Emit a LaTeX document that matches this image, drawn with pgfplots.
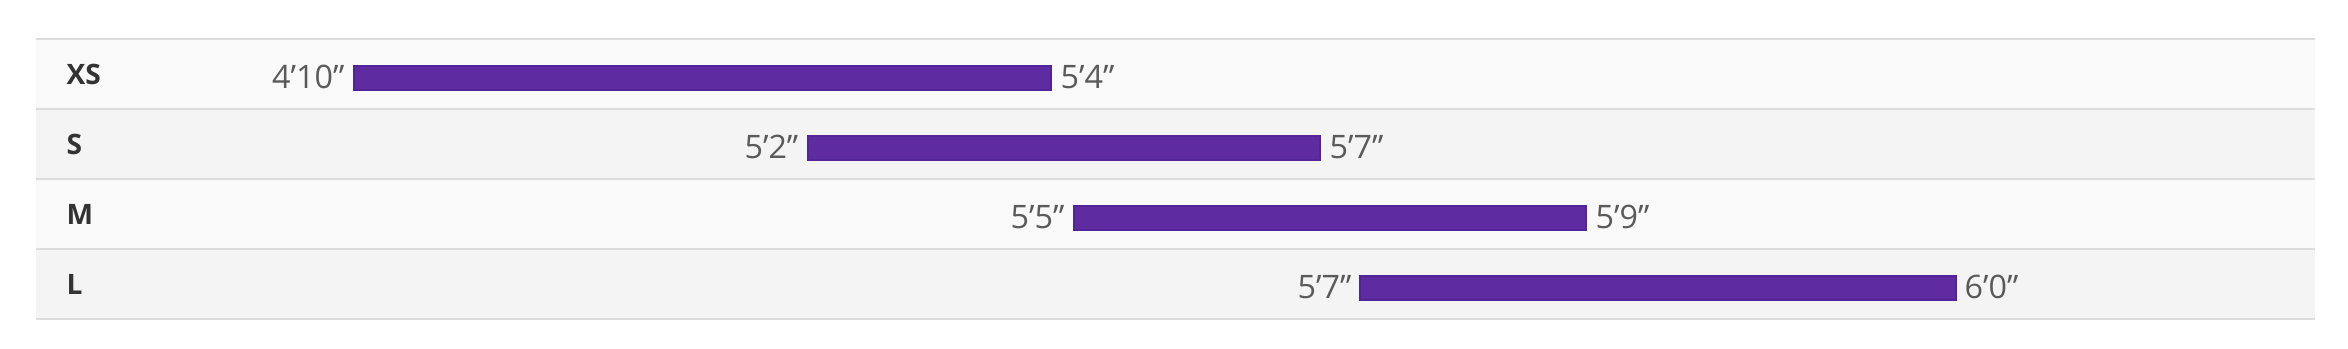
\documentclass[border=0pt]{standalone}
\usepackage{pgfplots}
\pgfplotsset{compat=1.18}
\usepackage{fontspec}
\setmainfont{Open Sans}
\definecolor{barfill}{HTML}{5E2CA0}
\definecolor{baredge}{HTML}{52249A}
\definecolor{rowA}{HTML}{F9F9F9}
\definecolor{rowB}{HTML}{F4F4F4}
\definecolor{ruleC}{HTML}{DDDDDD}
\definecolor{labC}{HTML}{333333}
\definecolor{numC}{HTML}{5A5A5A}
\newcommand\labfont{\fontsize{8pt}{9pt}\selectfont\bfseries}
\newcommand\numfont{\fontsize{9.2pt}{10pt}\selectfont}
\tikzset{lbl/.style={anchor=west, text=labC, font=\labfont, inner sep=0pt},
  numL/.style={anchor=east, text=numC, font=\numfont, inner sep=0pt},
  numR/.style={anchor=west, text=numC, font=\numfont, inner sep=0pt}}
\begin{document}
\begin{tikzpicture}
% table background (1 unit = 1 px of the reference, y downwards)
\begin{scope}[x=0.1mm, y=-0.1mm, yshift=34.8mm]
\path (0,0) rectangle (2348,348);
\fill[rowA] (36,39) rectangle (2315,109);
\fill[rowB] (36,109) rectangle (2315,179);
\fill[rowA] (36,179) rectangle (2315,249);
\fill[rowB] (36,249) rectangle (2315,319);
\foreach \yy in {39,109,179,249,319}{
  \draw[ruleC, line width=0.22mm] (36,\yy) -- (2315,\yy);
}
\end{scope}
\begin{axis}[
  at={(0,0)}, anchor=south west,
  scale only axis, width=234.8mm, height=34.8mm,
  xmin=0, xmax=2348, ymin=0, ymax=348, y dir=reverse,
  hide axis, clip=false,
  xbar stacked, bar width=2.4mm,
]
% bar start positions (invisible offsets)
\addplot[draw=none, fill=none] coordinates {(354,78) (808,148) (1074,218) (1360,288)};
% bar lengths (end - start)
\addplot[fill=barfill, draw=baredge, line width=0.12mm] coordinates {(697,78) (512,148) (512,218) (596,288)};
\node[lbl] at (axis cs:66,74) {XS};
\node[lbl] at (axis cs:66,144) {S};
\node[lbl] at (axis cs:66,214) {M};
\node[lbl] at (axis cs:66,284) {L};
\node[numL] at (axis cs:345,77) {4’10”};
\node[numR] at (axis cs:1060,77) {5’4”};
\node[numL] at (axis cs:799,147) {5’2”};
\node[numR] at (axis cs:1329,147) {5’7”};
\node[numL] at (axis cs:1065,217) {5’5”};
\node[numR] at (axis cs:1595,217) {5’9”};
\node[numL] at (axis cs:1352,287) {5’7”};
\node[numR] at (axis cs:1964,287) {6’0”};
\end{axis}
\end{tikzpicture}
\end{document}
